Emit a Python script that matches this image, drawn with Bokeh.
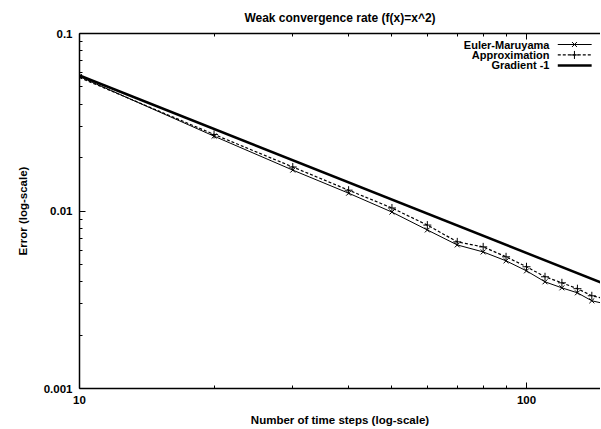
import numpy as np
from bokeh.plotting import figure
from bokeh.models import LogAxis, FixedTicker, Range1d, CustomJSTickFormatter
from bokeh.core.properties import value
from bokeh.embed import file_html
from bokeh.resources import INLINE

title = "Weak convergence rate (f(x)=x^2)"
x_label = "Number of time steps (log-scale)"
y_label = "Error (log-scale)"

steps = [10, 20, 30, 40, 50, 60, 70, 80, 90, 100, 110, 120, 130, 140, 150]
euler = [0.0572, 0.0264, 0.0170, 0.0126, 0.00986, 0.00782, 0.00644, 0.00588,
         0.00524, 0.00460, 0.00399, 0.00369, 0.00346, 0.00312, 0.00300]
approx = [0.0565, 0.0270, 0.0177, 0.0131, 0.0104, 0.00833, 0.00670, 0.00628,
          0.00552, 0.00485, 0.00426, 0.00394, 0.00365, 0.00333, 0.00320]
grad_x = [10, 150]
grad_y = [0.058, 0.003867]

x_ticks = [10, 100]
x_tick_labels = ["10", "100"]
x_minor = [20, 30, 40, 50, 60, 70, 80, 90]
y_ticks = [0.001, 0.01, 0.1]
y_tick_labels = ["0.001", "0.01", "0.1"]
y_minor = [0.002, 0.003, 0.004, 0.005, 0.006, 0.007, 0.008, 0.009,
           0.02, 0.03, 0.04, 0.05, 0.06, 0.07, 0.08, 0.09]

legend_labels = ["Euler-Maruyama", "Approximation", "Gradient -1"]

FONT = "Liberation Sans"

xr = Range1d(10, 146.4)
yr = Range1d(0.001, 0.1)

p = figure(width=600, height=428, x_axis_type="log", y_axis_type="log",
           x_range=xr, y_range=yr, output_backend="svg", toolbar_location=None,
           min_border_left=79, min_border_right=0, min_border_top=32,
           min_border_bottom=40, title=title)

p.title.align = "center"
p.title.text_font = FONT
p.title.text_font_size = "12px"
p.title.text_font_style = "bold"
p.title.text_color = "black"
p.title.standoff = 17

p.xgrid.visible = False
p.ygrid.visible = False
p.outline_line_color = None
p.background_fill_color = "white"
p.border_fill_color = "white"

fmt_code = """
let best = 0, bd = Infinity;
for (let i = 0; i < ticks_v.length; i++) {
  const d = Math.abs(Math.log10(tick) - Math.log10(ticks_v[i]));
  if (d < bd) { bd = d; best = i; }
}
return labels[best];
"""

for ax, ticks, minor, labels, lab in [
        (p.xaxis[0], x_ticks, x_minor, x_tick_labels, x_label),
        (p.yaxis[0], y_ticks, y_minor, y_tick_labels, y_label)]:
    ax.ticker = FixedTicker(ticks=ticks, minor_ticks=minor)
    ax.formatter = CustomJSTickFormatter(args=dict(ticks_v=ticks, labels=labels), code=fmt_code)
    ax.axis_label = lab
    ax.axis_label_text_font = FONT
    ax.axis_label_text_font_size = "11.5px"
    ax.axis_label_text_font_style = "bold"
    ax.axis_label_text_color = "black"
    ax.major_label_text_font = FONT
    ax.major_label_text_font_size = "11.5px"
    ax.major_label_text_font_style = "bold"
    ax.major_label_text_color = "black"
    ax.major_tick_in = 6
    ax.major_tick_out = 0
    ax.minor_tick_in = 3
    ax.minor_tick_out = 0
    ax.axis_line_color = "black"
    ax.axis_line_width = 1.5
    ax.major_tick_line_color = "black"
    ax.minor_tick_line_color = "black"

p.xaxis[0].major_label_standoff = 7
p.xaxis[0].axis_label_standoff = 7
p.yaxis[0].major_label_standoff = 7
p.yaxis[0].axis_label_standoff = 12

top = LogAxis(ticker=FixedTicker(ticks=x_ticks, minor_ticks=x_minor),
              major_label_text_font_size="1px", major_label_text_alpha=0,
              major_label_standoff=0,
              major_tick_in=6, major_tick_out=0, minor_tick_in=3, minor_tick_out=0,
              axis_line_color="black", axis_line_width=1.5)
p.add_layout(top, "above")

# data
p.line(steps, euler, line_color="black", line_width=1)
p.scatter(steps, euler, marker="x", size=7, line_color="black", line_width=1)
p.line(steps, approx, line_color="black", line_width=1.2, line_dash="3 2")
p.scatter(steps, approx, marker="cross", size=8, line_color="black", line_width=1)
p.line(grad_x, grad_y, line_color="black", line_width=2.5)

# legend (text left of sample, gnuplot style), positioned by frame fractions
lx0, lx1 = np.log10(xr.start), np.log10(xr.end)
ly0, ly1 = np.log10(yr.start), np.log10(yr.end)
def fx(f):
    return 10 ** (lx0 + f * (lx1 - lx0))
def fy(f):
    return 10 ** (ly0 + f * (ly1 - ly0))

rows = [fy(0.969), fy(0.9396), fy(0.9101)]
p.text(x=[fx(0.902)] * 3, y=rows, text=legend_labels, text_align="right",
       text_baseline="middle", text_font=value(FONT), text_font_style="bold",
       text_font_size="11px", text_color="black")
sx0, sx1, sxm = fx(0.918), fx(0.983), fx(0.950)
p.segment(x0=[sx0], y0=[rows[0]], x1=[sx1], y1=[rows[0]], line_color="black", line_width=1)
p.scatter(x=[sxm], y=[rows[0]], marker="x", size=7, line_color="black")
p.segment(x0=[sx0], y0=[rows[1]], x1=[sx1], y1=[rows[1]], line_color="black",
          line_width=1.2, line_dash="3 2")
p.scatter(x=[sxm], y=[rows[1]], marker="cross", size=8, line_color="black")
p.segment(x0=[sx0], y0=[rows[2]], x1=[sx1], y1=[rows[2]], line_color="black", line_width=2.5)

open("out.html", "w").write(file_html(p, INLINE))
